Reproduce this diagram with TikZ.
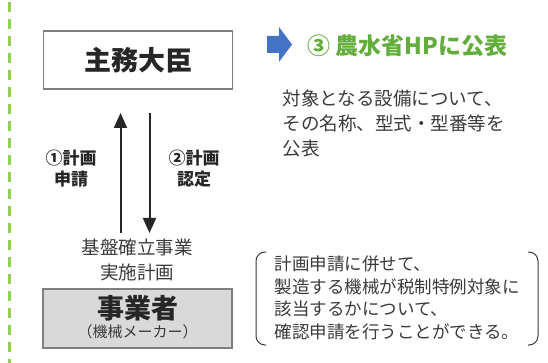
\documentclass[tikz,border=0pt]{standalone}
\usepackage{fontspec}
\setmainfont{Noto Sans CJK JP}
\usepackage{tikz}
\usetikzlibrary{arrows.meta,calc,positioning}

\definecolor{inkgray}{HTML}{262626}
\definecolor{txtgray}{HTML}{3A3A3A}
\definecolor{boxgray}{HTML}{7F7F7F}
\definecolor{boxfill}{HTML}{D9D9D9}
\definecolor{dashgreen}{HTML}{92D050}
\definecolor{titlegreen}{HTML}{62AD3C}
\definecolor{arrowblue}{HTML}{4472C4}

\begin{document}
\begin{tikzpicture}[x=1pt,y=-1pt,
  >={Triangle[width=13pt,length=15pt]},
  text=txtgray]
    \tikzstyle{box}=[draw=boxgray, line width=1.2pt, minimum width=189pt, minimum height=58pt, inner sep=0pt]
    \tikzstyle{flow}=[->, line width=2pt, draw=inkgray]
    \tikzstyle{steplabel}=[align=center, text=inkgray, font=\fontsize{17}{21}\selectfont\bfseries]
    \tikzstyle{bracket}=[draw=txtgray, line width=1pt, rounded corners=9pt]

    \useasboundingbox (0,0) rectangle (548,363);
    \draw[dashgreen, line width=3pt, dash pattern=on 10pt off 7pt] (9,2) -- (9,363);

    % left column
    \node[box, fill=white] (minister) at (138,60)
      {\fontsize{27}{30}\selectfont\bfseries\color{inkgray}主務大臣};
    \node[box, fill=boxfill, minimum height=59pt] (maker) at (137.5,318.5) {};
    \node[text=inkgray, font=\fontsize{27}{30}\selectfont\bfseries] (makername) at (137.5,308) {事業者};
    \node[font=\fontsize{15}{17}\selectfont, below=0pt of makername, yshift=3pt] (makerkind) {（機械メーカー）};
    \node[align=center, font=\fontsize{18.5}{25}\selectfont] (plan) at (137,260) {基盤確立事業\\実施計画};

    \coordinate (upfoot) at (120.5,233);
    \coordinate (uphead) at (120.5,113);
    \coordinate (downfoot) at (149.5,113);
    \coordinate (downhead) at (149.5,233);
    \draw[flow] (upfoot) -- (uphead);
    \draw[flow] (downfoot) -- (downhead);
    \node[steplabel] (apply) at (71,169) {①計画\\申請};
    \node[steplabel] (approve) at (194,169) {②計画\\認定};

    % right column
    \fill[arrowblue] (267,36) -- (279,36) -- (279,27) -- (292,44.5) -- (279,62) -- (279,53) -- (267,53) -- cycle;
    \node[anchor=west, text=titlegreen, font=\fontsize{23}{26}\selectfont\bfseries] (pubtitle) at (304,46) {③ 農水省HPに公表};
    \node[anchor=west, align=left, font=\fontsize{18.5}{25}\selectfont] (pubnote) at (279,123)
      {対象となる設備について、\\その名称、型式・型番等を\\公表};

    \node[anchor=west, align=left, font=\fontsize{17.5}{22.5}\selectfont] (taxnote) at (271,298)
      {計画申請に併せて、\\製造する機械が税制特例対象に\\該当するかについて、\\確認申請を行うことができる。};
    \draw[bracket] (266,252) -- (256,252) -- (256,345) -- (266,345);
    \draw[bracket] (528,252) -- (538,252) -- (538,345) -- (528,345);
\end{tikzpicture}
\end{document}
